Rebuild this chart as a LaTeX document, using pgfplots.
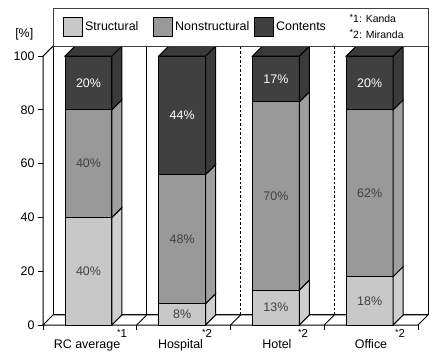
\documentclass[border=0pt]{standalone}
\usepackage{pgfplots}
\usepackage{pgfplotstable}
\pgfplotsset{compat=1.18}
\usepackage{fontspec}
\setmainfont{Liberation Sans}
\definecolor{cS}{HTML}{C8C8C8}
\definecolor{cN}{HTML}{999999}
\definecolor{cC}{HTML}{404040}
\definecolor{cSs}{HTML}{CFCFCF}
\definecolor{cNs}{HTML}{9F9F9F}
\definecolor{cCs}{HTML}{3A3A3A}
\definecolor{txt}{HTML}{404040}
\pgfplotstableread{
x S N C
0 40 40 20
1 8 48 44
2 13 70 17
3 18 62 20
}\data
\newcommand{\mf}{\fontsize{12.5}{15}\selectfont}
\newcommand{\astk}{\raisebox{2.5bp}{\fontsize{9}{10}\selectfont *}}
\begin{document}
\begin{tikzpicture}
\begin{axis}[
  scale only axis, width=385bp, height=316bp,
  xmin=0, xmax=4.107, ymin=0, ymax=117.5,
  axis x line*=bottom, axis y line*=left,
  axis line style={draw=none},
  clip=false,
  xtick={0,1,2,3,4}, xticklabels={},
  ytick={0,20,40,60,80,100},
  tick align=outside,
  major tick length=5bp,
  tick style={black, line width=0.8bp},
  /pgf/number format/assume math mode=true,
  yticklabel style={font=\mf},
  legend image code/.code={\draw[#1] (0bp,-9.5bp) rectangle (19bp,9.5bp);},
  legend columns=-1,
  legend style={at={(axis cs:0.215,110.8)}, anchor=west, draw=none, fill=none,
    inner sep=0pt, font=\mf, nodes={inner sep=2bp},
    /tikz/column 2/.style={column sep=13bp},
    /tikz/column 4/.style={column sep=3bp}},
]
% back wall and floor
\draw[black, line width=1bp, fill=white] (axis cs:0.107,3.72) rectangle (axis cs:4.107,103.72);
\draw[black, line width=1bp, fill=white] (axis cs:0,0) -- (axis cs:4,0) -- (axis cs:4.107,3.72) -- (axis cs:0.107,3.72) -- cycle;
\draw[black, line width=1bp] (axis cs:0,0) -- (axis cs:0,100) -- (axis cs:0.107,103.72);
\draw[black, line width=1bp] (axis cs:1.107,3.72) -- (axis cs:1.107,103.72);
\draw[black, line width=1.3bp, dash pattern=on 2.5bp off 2bp] (axis cs:2.107,3.72) -- (axis cs:2.107,103.72);
\draw[black, line width=1.3bp, dash pattern=on 2.5bp off 2bp] (axis cs:3.107,3.72) -- (axis cs:3.107,103.72);
\draw[black, line width=1bp] (axis cs:1,0) -- (axis cs:1.107,3.72);
\draw[black, line width=1bp] (axis cs:2,0) -- (axis cs:2.107,3.72);
\draw[black, line width=1bp] (axis cs:3,0) -- (axis cs:3.107,3.72);

% front faces (stacked, drawn tallest first)
\addplot[ybar, bar width=0.5, bar shift=0pt, fill=cC, draw=black, line width=1bp, forget plot]
  table[x expr=\thisrow{x}+0.485, y expr=\thisrow{S}+\thisrow{N}+\thisrow{C}] {\data};
\addplot[ybar, bar width=0.5, bar shift=0pt, fill=cN, draw=black, line width=1bp, forget plot]
  table[x expr=\thisrow{x}+0.485, y expr=\thisrow{S}+\thisrow{N}] {\data};
\addplot[ybar, bar width=0.5, bar shift=0pt, fill=cS, draw=black, line width=1bp, forget plot]
  table[x expr=\thisrow{x}+0.485, y expr=\thisrow{S}] {\data};

% side faces
\addplot[fill=cSs, draw=black, line width=1bp, forget plot] coordinates {(0.735,0) (0.842,3.72) (0.842,43.72) (0.735,40)} -- cycle;
\addplot[fill=cNs, draw=black, line width=1bp, forget plot] coordinates {(0.735,40) (0.842,43.72) (0.842,83.72) (0.735,80)} -- cycle;
\addplot[fill=cCs, draw=black, line width=1bp, forget plot] coordinates {(0.735,80) (0.842,83.72) (0.842,103.72) (0.735,100)} -- cycle;
\addplot[fill=cSs, draw=black, line width=1bp, forget plot] coordinates {(1.735,0) (1.842,3.72) (1.842,11.72) (1.735,8)} -- cycle;
\addplot[fill=cNs, draw=black, line width=1bp, forget plot] coordinates {(1.735,8) (1.842,11.72) (1.842,59.72) (1.735,56)} -- cycle;
\addplot[fill=cCs, draw=black, line width=1bp, forget plot] coordinates {(1.735,56) (1.842,59.72) (1.842,103.72) (1.735,100)} -- cycle;
\addplot[fill=cSs, draw=black, line width=1bp, forget plot] coordinates {(2.735,0) (2.842,3.72) (2.842,16.72) (2.735,13)} -- cycle;
\addplot[fill=cNs, draw=black, line width=1bp, forget plot] coordinates {(2.735,13) (2.842,16.72) (2.842,86.72) (2.735,83)} -- cycle;
\addplot[fill=cCs, draw=black, line width=1bp, forget plot] coordinates {(2.735,83) (2.842,86.72) (2.842,103.72) (2.735,100)} -- cycle;
\addplot[fill=cSs, draw=black, line width=1bp, forget plot] coordinates {(3.735,0) (3.842,3.72) (3.842,21.72) (3.735,18)} -- cycle;
\addplot[fill=cNs, draw=black, line width=1bp, forget plot] coordinates {(3.735,18) (3.842,21.72) (3.842,83.72) (3.735,80)} -- cycle;
\addplot[fill=cCs, draw=black, line width=1bp, forget plot] coordinates {(3.735,80) (3.842,83.72) (3.842,103.72) (3.735,100)} -- cycle;
% top faces
\addplot[fill=cCs, draw=black, line width=1bp, forget plot] coordinates {(0.235,100) (0.342,103.72) (0.842,103.72) (0.735,100)} -- cycle;
\addplot[fill=cCs, draw=black, line width=1bp, forget plot] coordinates {(1.235,100) (1.342,103.72) (1.842,103.72) (1.735,100)} -- cycle;
\addplot[fill=cCs, draw=black, line width=1bp, forget plot] coordinates {(2.235,100) (2.342,103.72) (2.842,103.72) (2.735,100)} -- cycle;
\addplot[fill=cCs, draw=black, line width=1bp, forget plot] coordinates {(3.235,100) (3.342,103.72) (3.842,103.72) (3.735,100)} -- cycle;

% value labels
\node[font=\mf, text=txt] at (axis cs:0.485,20) {40\%};
\node[font=\mf, text=txt] at (axis cs:0.485,60) {40\%};
\node[font=\mf, text=white] at (axis cs:0.485,90) {20\%};
\node[font=\mf, text=txt] at (axis cs:1.485,4) {8\%};
\node[font=\mf, text=txt] at (axis cs:1.485,32) {48\%};
\node[font=\mf, text=white] at (axis cs:1.485,78) {44\%};
\node[font=\mf, text=txt] at (axis cs:2.485,6.5) {13\%};
\node[font=\mf, text=txt] at (axis cs:2.485,48) {70\%};
\node[font=\mf, text=white] at (axis cs:2.485,91.5) {17\%};
\node[font=\mf, text=txt] at (axis cs:3.485,9) {18\%};
\node[font=\mf, text=txt] at (axis cs:3.485,49) {62\%};
\node[font=\mf, text=white] at (axis cs:3.485,90) {20\%};

% category labels
\node[font=\mf, anchor=base] at (axis cs:0.47,-8.6) {RC average};
\node[font=\mf, anchor=base] at (axis cs:1.467,-8.6) {Hospital};
\node[font=\mf, anchor=base] at (axis cs:2.496,-8.6) {Hotel};
\node[font=\mf, anchor=base] at (axis cs:3.499,-8.6) {Office};
\node[font=\fontsize{11.5}{13}\selectfont] at (axis cs:0.843,-3.2) {\astk1};
\node[font=\fontsize{11.5}{13}\selectfont] at (axis cs:1.749,-3.2) {\astk2};
\node[font=\fontsize{11.5}{13}\selectfont] at (axis cs:2.773,-3.2) {\astk2};
\node[font=\fontsize{11.5}{13}\selectfont] at (axis cs:3.808,-3.2) {\astk2};
\node[font=\mf] at (axis cs:-0.2,108) {[\%]};

% legend box
\draw[black!75, line width=1bp, fill=white] (axis cs:0.107,103.72) rectangle (axis cs:4.107,117.5);
\node[font=\fontsize{10.5}{12}\selectfont, anchor=west, inner sep=0pt] at (axis cs:3.27,113.9) {\astk1: Kanda};
\node[font=\fontsize{10.5}{12}\selectfont, anchor=west, inner sep=0pt] at (axis cs:3.27,108.2) {\astk2: Miranda};
\addlegendimage{fill=cS, draw=black, line width=0.8bp}
\addlegendentry{Structural}
\addlegendimage{fill=cN, draw=black, line width=0.8bp}
\addlegendentry{Nonstructural}
\addlegendimage{fill=cC, draw=black, line width=0.8bp}
\addlegendentry{Contents}
\end{axis}
\pgfresetboundingbox
\path (-43bp,-38bp) rectangle (392bp,325bp);
\end{tikzpicture}
\end{document}
